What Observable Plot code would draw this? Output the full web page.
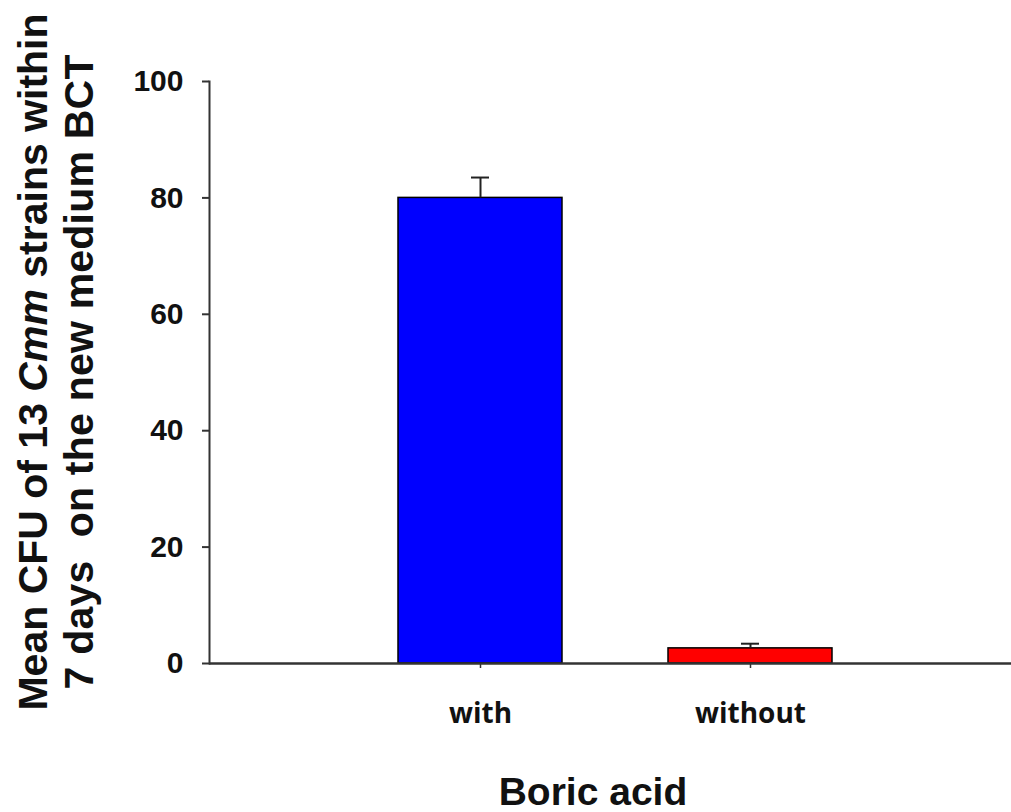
<!DOCTYPE html>
<html>
<head>
<meta charset="utf-8">
<script src="https://cdn.jsdelivr.net/npm/d3@7"></script>
<script src="https://cdn.jsdelivr.net/npm/@observablehq/plot@0.6"></script>
<style>
  html, body { margin: 0; padding: 0; background: #fff; }
  #chart svg { display: block; }
</style>
</head>
<body>
<div id="chart"></div>
<script>
// Mean colony counts on BCT medium, with and without boric acid
const categories = ["with", "without"];
const means = [80, 2.6];
const errors = [3.5, 0.8];
const colors = ["#0000ff", "#ff0000"];
const yTicks = [0, 20, 40, 60, 80, 100];

const data = categories.map((category, i) => ({
  category,
  mean: means[i],
  err: errors[i],
  color: colors[i]
}));

const axisColor = "#333";

const chart = Plot.plot({
  width: 1011,
  height: 812,
  marginLeft: 209,
  marginRight: 0,
  marginTop: 81,
  marginBottom: 149,
  style: { background: "#fff" },
  x: {
    domain: categories,
    range: [345, 885],
    paddingInner: 0.3926,
    paddingOuter: 0.1963,
    axis: null
  },
  y: { domain: [0, 100], axis: null },
  color: { type: "identity" },
  marks: [
    Plot.barY(data, {
      x: "category",
      y: "mean",
      fill: "color",
      stroke: "#000",
      strokeWidth: 1.5
    }),
    // upper error bars with caps
    Plot.ruleX(data, {
      x: "category",
      y1: "mean",
      y2: (d) => d.mean + d.err,
      stroke: "#222",
      strokeWidth: 2
    }),
    Plot.tickY(data, {
      x: "category",
      y: (d) => d.mean + d.err,
      insetLeft: 73,
      insetRight: 73,
      stroke: "#222",
      strokeWidth: 2
    }),
    Plot.axisY({
      ticks: yTicks,
      tickSize: 7,
      tickPadding: 19,
      fontSize: 30,
      fontWeight: "bold",
      fontFamily: "Liberation Sans",
      color: "#111",
      stroke: axisColor,
      strokeWidth: 2,
      label: null
    }),
    // vertical axis line
    Plot.frame({ anchor: "left", stroke: axisColor, strokeWidth: 2 }),
    Plot.axisX({
      tickSize: 5,
      tickPadding: 35,
      fontSize: 28,
      fontWeight: "bold",
      fontFamily: "Open Sans",
      color: "#111",
      stroke: axisColor,
      strokeWidth: 1.5,
      label: null
    }),
    Plot.ruleY([0], { stroke: axisColor, strokeWidth: 2.5 })
  ]
});

document.getElementById("chart").appendChild(chart);

// axis titles
const svg = d3.select(chart);
const titleFont = (sel, size) =>
  sel
    .attr("font-family", "Liberation Sans, Arial, sans-serif")
    .attr("font-weight", "bold")
    .attr("font-size", size)
    .attr("fill", "#111")
    .attr("text-anchor", "middle")
    .style("white-space", "pre");

const line1 = svg.append("text").attr("transform", "translate(47,362) rotate(-90)");
titleFont(line1, 41);
line1.append("tspan").text("Mean CFU of 13 ");
line1.append("tspan").attr("font-style", "italic").text("Cmm");
line1.append("tspan").text(" strains within");

const line2 = svg.append("text").attr("transform", "translate(93,372) rotate(-90)");
titleFont(line2, 41);
line2
  .attr("textLength", 635)
  .attr("lengthAdjust", "spacing")
  .text("7 days  on the new medium BCT");

const xTitle = svg.append("text").attr("x", 593).attr("y", 805);
titleFont(xTitle, 39);
xTitle.text("Boric acid");
</script>
</body>
</html>
